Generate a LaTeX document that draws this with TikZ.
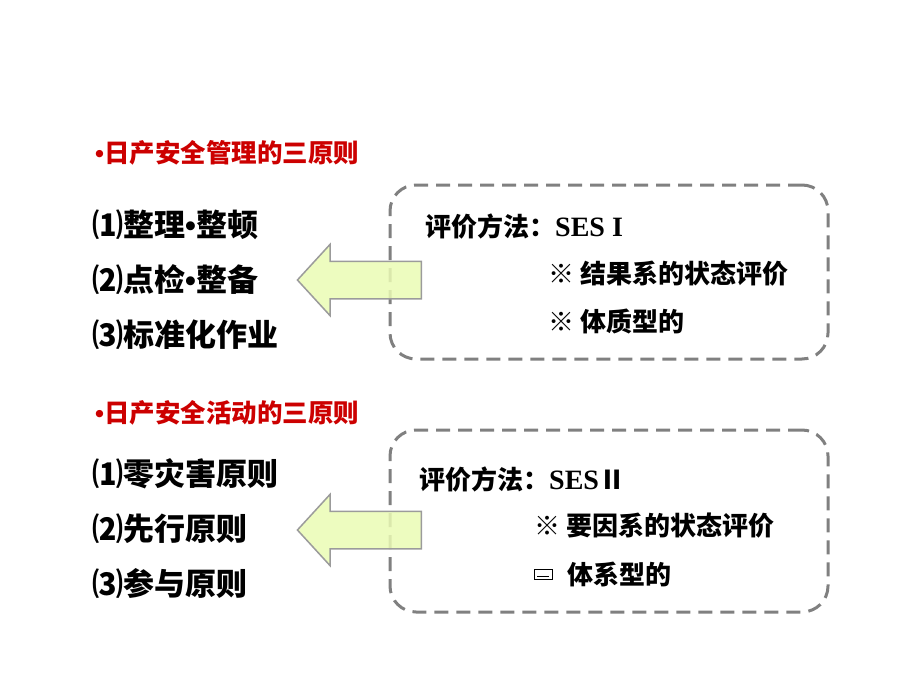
\documentclass[tikz,border=0pt]{standalone}
\usepackage{fontspec}
\newfontfamily\hei{Noto Sans CJK SC}
\newfontfamily\serifbf{Liberation Serif}
\newfontfamily\dotfont{Liberation Sans}
\newcommand{\mdot}{{\dotfont\bfseries •}}
\usetikzlibrary{shapes.arrows,positioning}
\definecolor{headred}{RGB}{204,0,0}
\definecolor{boxgray}{RGB}{128,128,128}
\definecolor{arrowfill}{RGB}{234,251,180}
\definecolor{arrowline}{RGB}{155,155,155}

\begin{document}
\begin{tikzpicture}[x=1pt,y=-1pt,
	heading/.style={anchor=west,inner sep=0pt,font=\hei\bfseries\fontsize{25.5}{25.5}\selectfont,text=headred},
	item/.style={anchor=west,inner sep=0pt,font=\hei\bfseries\fontsize{31}{31}\selectfont},
	note/.style={anchor=west,inner sep=0pt,font=\hei\bfseries\fontsize{26}{26}\selectfont},
	dashbox/.style={draw=boxgray,line width=3pt,dash pattern=on 14pt off 8pt,rounded corners=26pt,minimum width=438pt,minimum height=174pt},
	leftarrow/.style={single arrow,draw=arrowline,fill=arrowfill,line width=1.5pt,shape border rotate=180,
		minimum width=70pt,minimum height=124pt,single arrow head extend=17pt,single arrow tip angle=95,
		inner xsep=0pt,inner ysep=18pt,fill opacity=0.85},
	tofu/.style={draw,line width=1pt,minimum width=18pt,minimum height=10pt,inner sep=0pt,
		path picture={\draw[line width=1pt] ([xshift=3pt,yshift=3pt]path picture bounding box.south west) -- ([xshift=-3pt,yshift=3pt]path picture bounding box.south east);}}]
	\useasboundingbox (0,0) rectangle (920,690);

	% first group
	\node[heading] (h1) at (95,153) {\mdot 日产安全管理的三原则};
	\node[item] (m11) at (92,225) {⑴整理\mdot 整顿};
	\node[item,below=55pt of m11.west,anchor=west] (m12) {⑵点检\mdot 整备};
	\node[item,below=55pt of m12.west,anchor=west] (m13) {⑶标准化作业};

	\node[dashbox] (box1) at (609,272) {};
	\node[leftarrow] (a1) at (368,280) {};
	\node[note] (e11) at (425,227) {评价方法：{\serifbf\bfseries\fontsize{28}{28}\selectfont SES I}};
	\node[note] (e12) at (548,274) {※ 结果系的状态评价};
	\node[note,below=47pt of e12.west,anchor=west] (e13) {※ 体质型的};

	% second group
	\node[heading] (h2) at (95,413) {\mdot 日产安全活动的三原则};
	\node[item] (m21) at (92,474) {⑴零灾害原则};
	\node[item,below=55pt of m21.west,anchor=west] (m22) {⑵先行原则};
	\node[item,below=55pt of m22.west,anchor=west] (m23) {⑶参与原则};

	\node[dashbox,minimum height=182pt] (box2) at (609,521) {};
	\node[leftarrow] (a2) at (368,530) {};
	\node[note] (e21) at (419,480) {评价方法：{\serifbf\bfseries\fontsize{28}{28}\selectfont SES}Ⅱ};
	\node[note] (e22) at (534,526) {※ 要因系的状态评价};
	\node[tofu] (t23) at (543,574) {};
	\node[note,right=15pt of t23.east,anchor=west] (e23) {体系型的};
\end{tikzpicture}
\end{document}
